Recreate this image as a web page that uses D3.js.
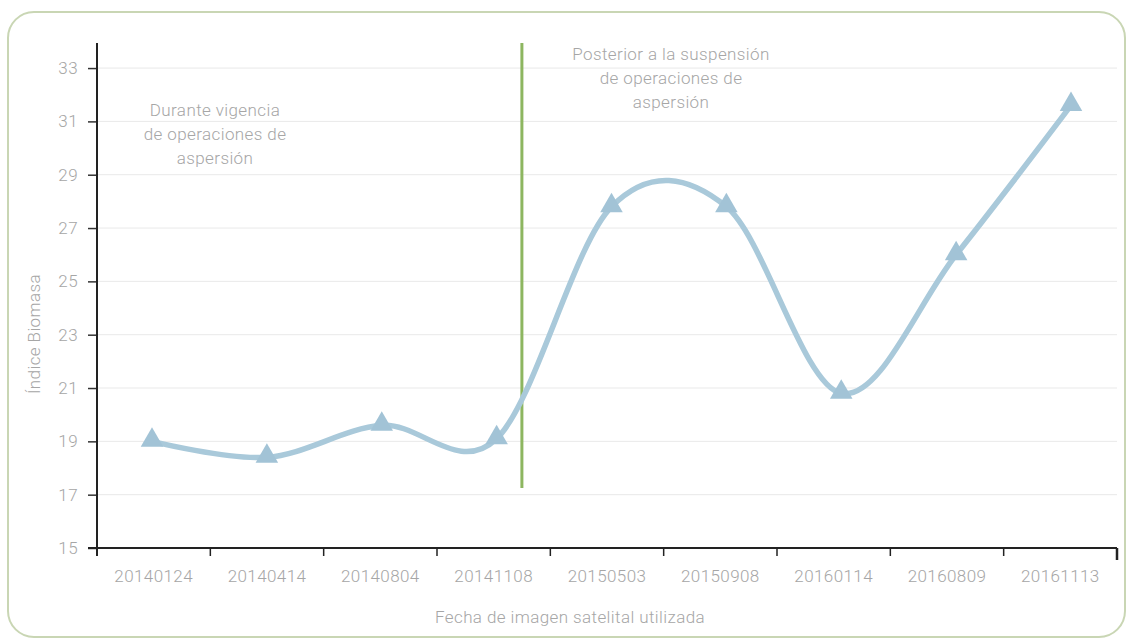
<!DOCTYPE html>
<html><head><meta charset="utf-8">
<script src="https://cdn.jsdelivr.net/npm/d3@7"></script>
<style>
html,body{margin:0;padding:0;background:#fff;}
svg text{font-family:Roboto,"Noto Sans",sans-serif;font-weight:300;fill:#a6a6a6;letter-spacing:0.4px;}
</style></head><body>
<svg id="chart" width="1129" height="641"></svg>
<script>
const categories = ["20140124","20140414","20140804","20141108","20150503","20150908","20160114","20160809","20161113"];
const biomasa = [19.0, 18.4, 19.6, 19.1, 27.8, 27.8, 20.8, 26.0, 31.6];
const yTicks = [15,17,19,21,23,25,27,29,31,33];
const dividerIndex = 3.22;          // position of the suspension line, in category units
const dividerRange = [17.25, 33.94];
const noteLeft = ["Durante vigencia","de operaciones de","aspersión"];
const noteRight = ["Posterior a la suspensión","de operaciones de","aspersión"];
const yTitle = "Índice Biomasa";
const xTitle = "Fecha de imagen satelital utilizada";

const FS = 17;
const TXT = "#a6a6a6";
const svg = d3.select("#chart");

svg.append("rect").attr("x",8).attr("y",12).attr("width",1117).attr("height",625)
  .attr("rx",26).attr("ry",26).attr("fill","#fff").attr("stroke","#c9d6b4").attr("stroke-width",2);

const y = d3.scaleLinear().domain([15,33.94]).range([548,43]);
const xBand = d3.scaleBand().domain(categories).range([97,1117]);
const xPt = d3.scalePoint().domain(categories).range([152,1071]);
const xIdx = d3.scaleLinear().domain([0,categories.length-1]).range([152,1071]);

// gridlines
svg.append("g").selectAll("line").data(yTicks.filter(d=>d>15)).join("line")
  .attr("x1",97).attr("x2",1117).attr("y1",d=>y(d)).attr("y2",d=>y(d))
  .attr("stroke","#e9e9e9").attr("stroke-width",1);

// y axis
const yAxis = svg.append("g").attr("transform","translate(97,0)")
  .call(d3.axisLeft(y).tickValues(yTicks).tickSize(9).tickPadding(10));
yAxis.select(".domain").remove();
yAxis.selectAll(".tick line").attr("stroke","#333").attr("stroke-width",1.5);
yAxis.selectAll(".tick text").attr("font-size",FS).attr("fill",TXT);
svg.append("line").attr("x1",97).attr("x2",97).attr("y1",43).attr("y2",556)
  .attr("stroke","#222").attr("stroke-width",2);

// x axis labels
const xAxis = svg.append("g").attr("transform","translate(0,548)")
  .call(d3.axisBottom(xBand).tickSize(0).tickPadding(22));
xAxis.select(".domain").remove();
xAxis.selectAll(".tick text").attr("font-size",FS).attr("fill",TXT);
svg.append("line").attr("x1",88).attr("x2",1117).attr("y1",548).attr("y2",548)
  .attr("stroke","#222").attr("stroke-width",2);
// x ticks at boundaries
const bounds = categories.map(c=>xBand(c)).slice(1).concat([xBand.range()[1]]);
svg.append("g").selectAll("line").data(bounds).join("line")
  .attr("x1",d=>d).attr("x2",d=>d).attr("y1",548).attr("y2",(d,i)=>i===bounds.length-1?560:556)
  .attr("stroke","#222").attr("stroke-width",(d,i)=>i===bounds.length-1?2.5:1.5);

// divider
svg.append("line").attr("x1",xIdx(dividerIndex)).attr("x2",xIdx(dividerIndex))
  .attr("y1",y(dividerRange[1])).attr("y2",y(dividerRange[0]))
  .attr("stroke","#8db660").attr("stroke-width",3);

// line
const line = d3.line().x((d,i)=>xPt(categories[i])).y(d=>y(d)).curve(d3.curveCardinal.tension(0));
svg.append("path").datum(biomasa).attr("d",line).attr("fill","none")
  .attr("stroke","#a9c9da").attr("stroke-width",5.5).attr("stroke-linecap","round");

// markers
svg.append("g").selectAll("path").data(biomasa).join("path")
  .attr("d",d3.symbol(d3.symbolTriangle,220))
  .attr("transform",(d,i)=>`translate(${xPt(categories[i])},${y(d)-1})`)
  .attr("fill","#a2c3d6");

// notes
svg.append("text").attr("text-anchor","middle").attr("font-size",FS).attr("fill",TXT)
  .selectAll("tspan").data(noteLeft).join("tspan")
  .attr("x",215).attr("y",(d,i)=>116+i*24).text(d=>d);
svg.append("text").attr("text-anchor","middle").attr("font-size",FS).attr("fill",TXT)
  .selectAll("tspan").data(noteRight).join("tspan")
  .attr("x",671).attr("y",(d,i)=>60+i*24).text(d=>d);

// titles
svg.append("text").attr("x",570).attr("y",623).attr("text-anchor","middle")
  .attr("font-size",FS).attr("fill",TXT).text(xTitle);
svg.append("text").attr("transform","translate(40,334) rotate(-90)").attr("text-anchor","middle")
  .attr("font-size",FS).attr("fill",TXT).text(yTitle);
</script>
</body></html>
